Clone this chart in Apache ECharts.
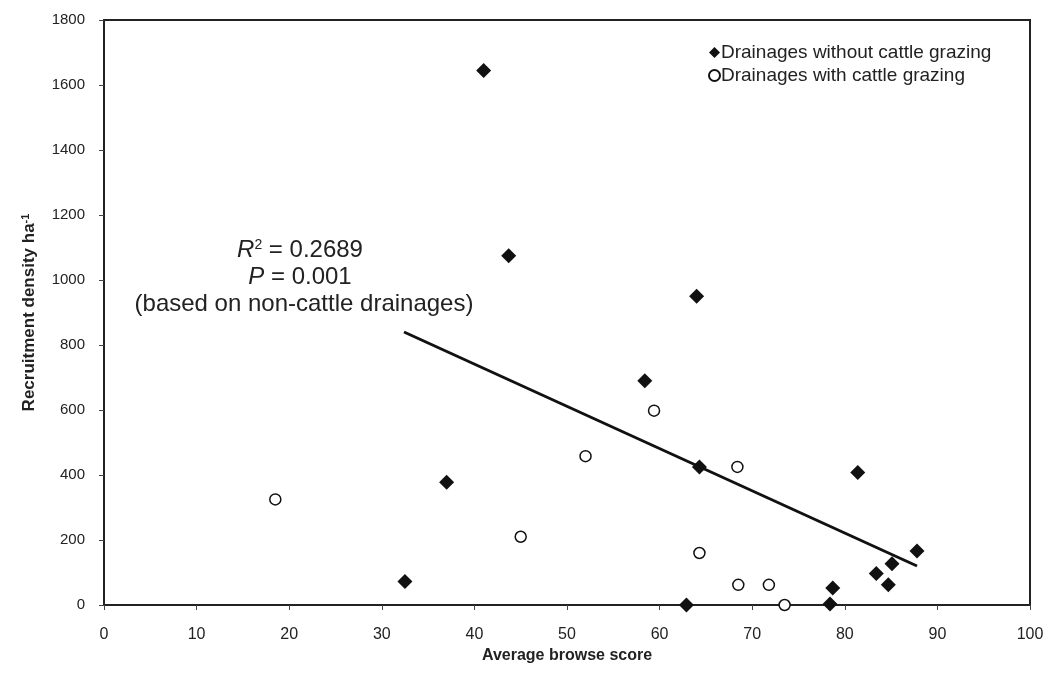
<!DOCTYPE html>
<html>
<head>
<meta charset="utf-8">
<script src="https://cdn.jsdelivr.net/npm/echarts@6/dist/echarts.min.js"></script>
<style>
  html, body { margin: 0; padding: 0; background: #fff; }
  #chart { width: 1047px; height: 677px; }
</style>
</head>
<body>
<div id="chart"></div>
<script>
// drainages without cattle grazing (filled diamonds)
var noCattleX = [41.0, 43.7, 64.0, 58.4, 37.0, 32.5, 64.3, 81.4, 62.9, 78.4, 78.7, 83.4, 85.1, 84.7, 87.8];
var noCattleY = [1645, 1075, 950, 690, 378, 72, 425, 408, 0, 3, 52, 97, 127, 62, 166];

// drainages with cattle grazing (open circles)
var cattleX = [18.5, 45.0, 52.0, 59.4, 68.4, 64.3, 68.5, 71.8, 73.5];
var cattleY = [325, 210, 458, 598, 425, 160, 62, 62, 0];

// regression line end points (non-cattle drainages)
var trendX = [32.4, 87.8];
var trendY = [840, 120];

var xTicks = [0, 100, 10];
var yTicks = [0, 1800, 200];

function pairs(xs, ys) {
    return xs.map(function (x, i) { return [x, ys[i]]; });
}

var chart = echarts.init(document.getElementById('chart'));

var fontFamily = 'Liberation Sans, Arial, sans-serif';

var option = {
    backgroundColor: '#fff',
    animation: false,
    textStyle: { fontFamily: fontFamily },
    grid: {
        left: 104, right: 17, top: 20, bottom: 72,
        show: true, borderColor: '#222', borderWidth: 2
    },
    legend: {
        orient: 'vertical',
        left: 703, top: 38,
        itemWidth: 11, itemHeight: 11, itemGap: 4,
        textStyle: { fontSize: 19, color: '#222', fontFamily: fontFamily, padding: [0, 0, 0, -4] },
        data: ['Drainages without cattle grazing', 'Drainages with cattle grazing']
    },
    xAxis: {
        type: 'value',
        min: xTicks[0], max: xTicks[1], interval: xTicks[2],
        name: 'Average browse score',
        nameLocation: 'middle', nameGap: 43,
        nameTextStyle: { fontSize: 16, fontWeight: 'bold', color: '#222' },
        axisLine: { lineStyle: { color: '#222', width: 2 } },
        axisTick: { show: true, length: 5, lineStyle: { color: '#444' } },
        axisLabel: { fontSize: 16, color: '#222', margin: 22 },
        splitLine: { show: false }
    },
    yAxis: {
        type: 'value',
        min: yTicks[0], max: yTicks[1], interval: yTicks[2],
        name: 'Recruitment density ha{sup|-1}',
        nameLocation: 'middle', nameGap: 65, nameRotate: 90,
        nameTextStyle: {
            fontSize: 17, fontWeight: 'bold', color: '#222',
            rich: { sup: { fontSize: 11, fontWeight: 'bold', verticalAlign: 'top', color: '#222', padding: [0, 0, 8, 0] } }
        },
        axisLine: { lineStyle: { color: '#222', width: 2 } },
        axisTick: { show: true, length: 5, lineStyle: { color: '#444' } },
        axisLabel: {
            fontSize: 15, color: '#222', margin: 19,
            formatter: function (v) { return String(v); }
        },
        splitLine: { show: false }
    },
    graphic: [
        {
            type: 'text', x: 300, y: 250,
            style: {
                text: '{i|R}{s|2} = 0.2689',
                font: '24px ' + fontFamily, fill: '#222',
                align: 'center', verticalAlign: 'middle',
                rich: {
                    i: { fontStyle: 'italic', fontSize: 24, fill: '#222' },
                    s: { fontSize: 14, verticalAlign: 'top', padding: [0, 0, 9, 0], fill: '#222' }
                }
            }
        },
        {
            type: 'text', x: 300, y: 277,
            style: {
                text: '{i|P} = 0.001',
                font: '24px ' + fontFamily, fill: '#222',
                align: 'center', verticalAlign: 'middle',
                rich: { i: { fontStyle: 'italic', fontSize: 24, fill: '#222' } }
            }
        },
        {
            type: 'text', x: 304, y: 304,
            style: {
                text: '(based on non-cattle drainages)', font: '24px ' + fontFamily, fill: '#222',
                align: 'center', verticalAlign: 'middle'
            }
        }
    ],
    series: [
        {
            name: 'Drainages without cattle grazing',
            type: 'scatter',
            symbol: 'diamond',
            symbolSize: 15,
            itemStyle: { color: '#111', opacity: 1 },
            data: pairs(noCattleX, noCattleY),
            z: 3
        },
        {
            name: 'Drainages with cattle grazing',
            type: 'scatter',
            symbol: 'circle',
            symbolSize: 11,
            itemStyle: { color: '#fff', borderColor: '#111', borderWidth: 1.5, opacity: 1 },
            data: pairs(cattleX, cattleY),
            z: 3
        },
        {
            name: 'trend',
            type: 'line',
            showSymbol: false,
            lineStyle: { color: '#111', width: 3 },
            data: pairs(trendX, trendY),
            z: 2
        }
    ]
};

chart.setOption(option);
</script>
</body>
</html>
